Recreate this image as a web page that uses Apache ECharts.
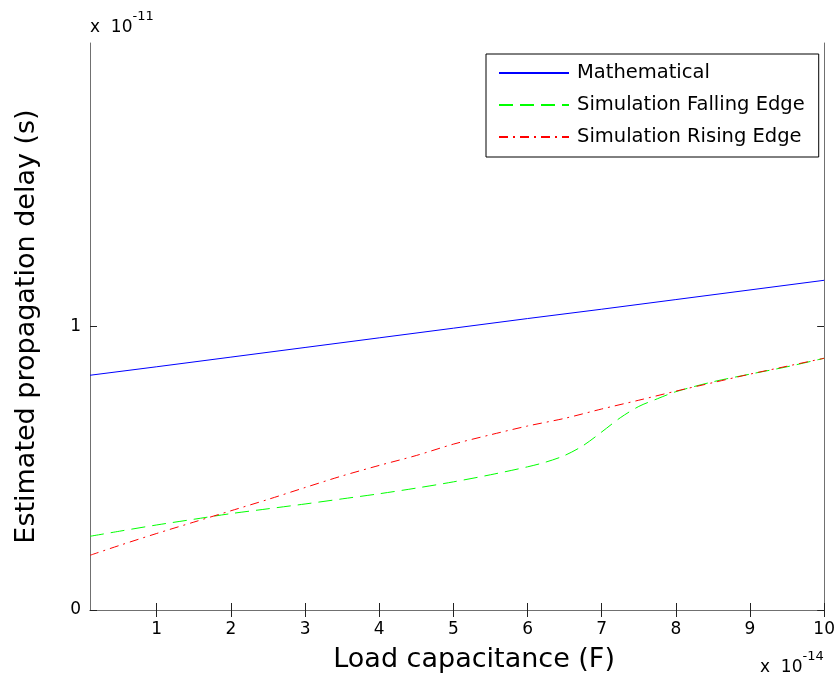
<!DOCTYPE html>
<html>
<head>
<meta charset="utf-8">
<script src="https://cdn.jsdelivr.net/npm/echarts@6/dist/echarts.min.js"></script>
<style>html,body{margin:0;padding:0;background:#fff}#c{width:838px;height:684px}</style>
</head>
<body>
<div id="c"></div>
<script>
// Load capacitance (x 1e-14 F)
const capMath = [0.1, 1, 2, 3, 4, 5, 6, 7, 8, 9, 10];
// Estimated propagation delay (x 1e-11 s)
const delayMath = [0.828, 0.858, 0.892, 0.926, 0.960, 0.994, 1.028, 1.061, 1.095, 1.129, 1.163];

const capFall = [0.1, 0.5, 1, 1.5, 2, 2.5, 3, 3.5, 4, 4.5, 5, 5.5, 6, 6.25, 6.5, 6.75, 7, 7.25, 7.5, 7.75, 8, 8.5, 9, 9.5, 10];
const delayFall = [0.260, 0.278, 0.300, 0.320, 0.340, 0.357, 0.374, 0.392, 0.410, 0.430, 0.452, 0.477, 0.505, 0.522, 0.545, 0.580, 0.628, 0.678, 0.718, 0.745, 0.770, 0.805, 0.832, 0.858, 0.888];

const capRise = [0.1, 0.5, 1, 1.5, 2, 2.5, 3, 3.5, 4, 4.5, 5, 5.5, 6, 6.5, 7, 7.5, 8, 8.5, 9, 9.5, 10];
const delayRise = [0.193, 0.228, 0.270, 0.310, 0.350, 0.390, 0.432, 0.473, 0.510, 0.545, 0.585, 0.618, 0.649, 0.676, 0.709, 0.740, 0.772, 0.802, 0.832, 0.860, 0.888];

const xTicks = [1, 2, 3, 4, 5, 6, 7, 8, 9, 10];
const yTicks = [0, 1];

const seriesNames = ['Mathematical', 'Simulation Falling Edge', 'Simulation Rising Edge'];

const FONT = 'DejaVu Sans';
const zip = (xs, ys) => xs.map((x, i) => [x, ys[i]]);

const chart = echarts.init(document.getElementById('c'), null, {renderer: 'canvas'});
const axisLine = {show: true, lineStyle: {color: '#707070', width: 1}};
const xTick = {show: true, inside: true, length: 7, customValues: xTicks, lineStyle: {color: '#222', width: 1}};
const yTick = {show: true, inside: true, length: 7, customValues: yTicks, lineStyle: {color: '#222', width: 1}};

chart.setOption({
  backgroundColor: '#ffffff',
  animation: false,
  grid: {left: 90, right: 13, top: 43, bottom: 74, containLabel: false},
  legend: {
    orient: 'vertical',
    left: 486, top: 54,
    padding: [7, 14, 8, 12],
    itemWidth: 70, itemHeight: 14, itemGap: 8,
    backgroundColor: '#fff',
    borderColor: '#000', borderWidth: 1, borderRadius: 0,
    textStyle: {fontFamily: FONT, fontSize: 19.5, color: '#000', lineHeight: 24, padding: [0, 0, 0, 3]},
    data: seriesNames.map(n => ({name: n, itemStyle: {opacity: 0}}))
  },
  xAxis: [{
    type: 'value', min: 0.1, max: 10,
    name: 'Load capacitance (F)', nameLocation: 'middle', nameGap: 36,
    nameTextStyle: {fontFamily: FONT, fontSize: 27, color: '#000', padding: [0, 0, 0, 34]},
    axisLine: axisLine, axisTick: xTick,
    axisLabel: {fontFamily: FONT, fontSize: 17, color: '#000', margin: 11, customValues: xTicks},
    splitLine: {show: false}
  }, {
    type: 'value', min: 0.1, max: 10, position: 'top',
    axisLine: axisLine, axisTick: xTick, axisLabel: {show: false}, splitLine: {show: false}
  }],
  yAxis: [{
    type: 'value', min: 0, max: 2,
    name: 'Estimated propagation delay (s)', nameLocation: 'middle', nameGap: 50,
    nameTextStyle: {fontFamily: FONT, fontSize: 27, color: '#000'},
    axisLine: axisLine, axisTick: yTick,
    axisLabel: {fontFamily: FONT, fontSize: 17, color: '#000', margin: 9, customValues: yTicks},
    splitLine: {show: false}
  }, {
    type: 'value', min: 0, max: 2, position: 'right',
    axisLine: axisLine, axisTick: yTick, axisLabel: {show: false}, splitLine: {show: false}
  }],
  graphic: [{
    type: 'text', left: 90, top: 10,
    style: {
      text: '{a|x  10}{b|-11}',
      rich: {
        a: {fontFamily: FONT, fontSize: 17, fill: '#000', verticalAlign: 'bottom', lineHeight: 26},
        b: {fontFamily: FONT, fontSize: 13, fill: '#000', verticalAlign: 'top', lineHeight: 26, padding: [0, 0, 12, 0]}
      }
    }
  }, {
    type: 'text', left: 760, top: 650,
    style: {
      text: '{a|x  10}{b|-14}',
      rich: {
        a: {fontFamily: FONT, fontSize: 17, fill: '#000', verticalAlign: 'bottom', lineHeight: 26},
        b: {fontFamily: FONT, fontSize: 13, fill: '#000', verticalAlign: 'top', lineHeight: 26, padding: [0, 0, 12, 0]}
      }
    }
  }],
  series: [{
    name: seriesNames[0], type: 'line', symbol: 'none', xAxisIndex: 0, yAxisIndex: 0,
    data: zip(capMath, delayMath),
    lineStyle: {color: '#0000ff', width: 1, type: 'solid'}, itemStyle: {color: '#0000ff'}
  }, {
    name: seriesNames[1], type: 'line', symbol: 'none', smooth: 0.3, xAxisIndex: 0, yAxisIndex: 0,
    data: zip(capFall, delayFall),
    lineStyle: {color: '#00ff00', width: 1, type: [14, 7]}, itemStyle: {color: '#00ff00'}
  }, {
    name: seriesNames[2], type: 'line', symbol: 'none', smooth: 0.3, xAxisIndex: 0, yAxisIndex: 0,
    data: zip(capRise, delayRise),
    lineStyle: {color: '#ff0000', width: 1, type: [9, 5, 2, 5]}, itemStyle: {color: '#ff0000'}
  }]
});
</script>
</body>
</html>
